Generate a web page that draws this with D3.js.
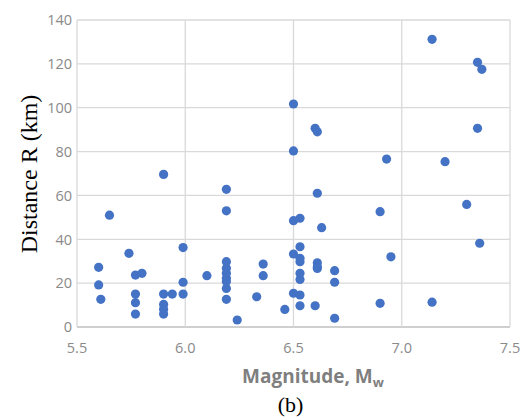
<!DOCTYPE html>
<html><head><meta charset="utf-8">
<script src="https://cdn.jsdelivr.net/npm/d3@7"></script>
<style>body{margin:0;background:#fff}</style>
</head><body>
<svg id="c" width="526" height="418"></svg>
<script>
const magnitude = [5.60,5.60,5.61,5.65,5.74,5.77,5.80,5.77,5.77,5.77,5.90,5.90,5.94,5.90,5.90,5.90,5.99,5.99,5.99,6.10,
  6.19,6.19,6.19,6.19,6.19,6.19,6.19,6.19,6.19,6.24,6.33,6.36,6.36,6.46,
  6.50,6.50,6.50,6.53,6.53,6.50,6.53,6.53,6.61,6.61,6.61,6.53,6.53,6.50,6.53,6.53,6.60,
  6.60,6.61,6.61,6.63,6.69,6.69,6.69,
  6.90,6.90,6.93,6.95,7.14,7.14,7.20,7.30,7.35,7.37,7.35,7.36];
const distance = [27.2,19.2,12.6,51,33.6,23.7,24.5,15,11.1,5.9,69.6,15,15,10.3,8.1,5.9,36.2,20.4,15,23.4,
  62.8,53,29.8,26.8,24.5,22.2,20.7,17.6,12.6,3.2,13.8,28.7,23.4,8,
  101.7,80.3,48.5,49.6,36.6,33.3,31.3,29.8,29.3,27.5,26.7,24.5,21.7,15.4,14.6,9.7,9.7,
  90.6,89,61,45.3,25.7,20.4,4,
  52.6,10.8,76.6,32,131.2,11.3,75.4,55.9,120.7,117.5,90.6,38.2];
const xTicks = [5.5,6.0,6.5,7.0,7.5];
const yTicks = [0,20,40,60,80,100,120,140];

const svg = d3.select("#c");
const x = d3.scaleLinear().domain([5.5,7.5]).range([77,510]);
const y = d3.scaleLinear().domain([0,140]).range([327,20]);

// gridlines
svg.append("g").selectAll("line").data(yTicks).join("line")
  .attr("x1",x(5.5)).attr("x2",x(7.5)).attr("y1",d=>y(d)).attr("y2",d=>y(d))
  .attr("stroke",d=>d===0?"#bfbfbf":"#d9d9d9").attr("stroke-width",1.3);
svg.append("g").selectAll("line").data(xTicks).join("line")
  .attr("x1",d=>x(d)).attr("x2",d=>x(d)).attr("y1",y(0)).attr("y2",y(140))
  .attr("stroke","#d9d9d9").attr("stroke-width",1.3);

// tick labels
svg.append("g").selectAll("text").data(yTicks).join("text")
  .attr("x",72).attr("y",d=>y(d)).attr("dy","0.36em").attr("text-anchor","end")
  .attr("font-family","Open Sans").attr("font-size",14.5).attr("fill","#8a8a8a")
  .text(d=>d);
svg.append("g").selectAll("text").data(xTicks).join("text")
  .attr("x",d=>x(d)).attr("y",353).attr("text-anchor","middle")
  .attr("font-family","Open Sans").attr("font-size",14.5).attr("fill","#8a8a8a")
  .text(d=>d.toFixed(1));

// points
svg.append("g").selectAll("circle").data(magnitude.map((m,i)=>[m,distance[i]])).join("circle")
  .attr("cx",d=>x(d[0])).attr("cy",d=>y(d[1])).attr("r",4.6).attr("fill","#4472c4");

// axis titles
const t = svg.append("text").attr("x",313).attr("y",383).attr("text-anchor","middle")
  .attr("font-family","Open Sans").attr("font-weight","bold").attr("font-size",19).attr("fill","#7f7f7f");
t.append("tspan").text("Magnitude, M");
t.append("tspan").attr("dy",4).attr("font-size",13).text("w");

svg.append("text").attr("x",290.5).attr("y",412).attr("text-anchor","middle")
  .attr("font-family","Liberation Serif").attr("font-size",22).attr("fill","#000").text("(b)");

svg.append("text").attr("transform","translate(37,174) rotate(-90)").attr("text-anchor","middle")
  .attr("font-family","Liberation Serif").attr("font-size",24).attr("fill","#000").text("Distance R (km)");
</script>
</body></html>
